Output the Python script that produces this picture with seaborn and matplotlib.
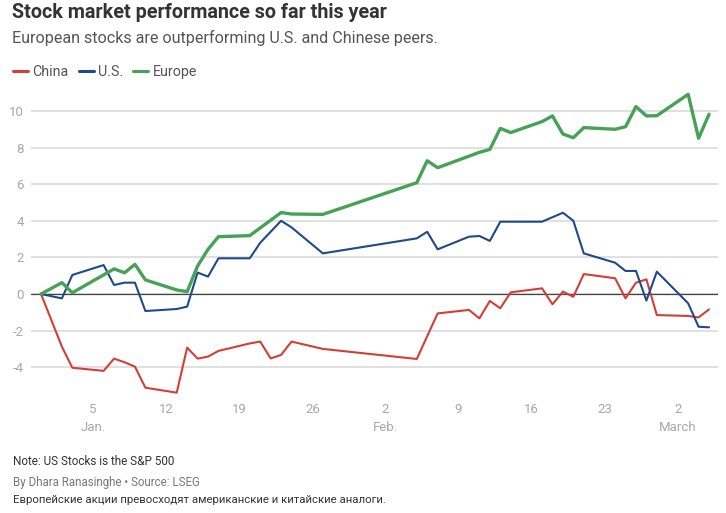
import numpy as np
import pandas as pd
import matplotlib as mpl
import matplotlib.pyplot as plt
import matplotlib.dates as mdates
from matplotlib.lines import Line2D
import seaborn as sns

# values (% change since Dec 31)
china_dates = ["2024-12-31", "2025-01-02", "2025-01-03", "2025-01-06", "2025-01-07", "2025-01-08",
               "2025-01-09", "2025-01-10", "2025-01-13", "2025-01-14", "2025-01-15", "2025-01-16",
               "2025-01-17", "2025-01-20", "2025-01-21", "2025-01-22", "2025-01-23", "2025-01-24",
               "2025-01-27", "2025-02-05", "2025-02-07", "2025-02-10", "2025-02-11", "2025-02-12",
               "2025-02-13", "2025-02-14", "2025-02-17", "2025-02-18", "2025-02-19", "2025-02-20",
               "2025-02-21", "2025-02-24", "2025-02-25", "2025-02-26", "2025-02-27", "2025-02-28",
               "2025-03-03", "2025-03-04", "2025-03-05"]
china = [0, -2.88, -4.03, -4.2, -3.53, -3.73, -3.97, -5.12, -5.39, -2.93, -3.53, -3.42,
         -3.11, -2.7, -2.6, -3.52, -3.33, -2.6, -3.0, -3.55, -1.06, -0.87, -1.33, -0.38,
         -0.78, 0.09, 0.31, -0.56, 0.13, -0.15, 1.09, 0.86, -0.24, 0.62, 0.8, -1.15,
         -1.2, -1.28, -0.84]

us_dates = ["2024-12-31", "2025-01-02", "2025-01-03", "2025-01-06", "2025-01-07", "2025-01-08",
            "2025-01-09", "2025-01-10", "2025-01-13", "2025-01-14", "2025-01-15", "2025-01-16",
            "2025-01-17", "2025-01-20", "2025-01-21", "2025-01-23", "2025-01-24", "2025-01-27",
            "2025-02-05", "2025-02-06", "2025-02-07", "2025-02-10", "2025-02-11", "2025-02-12",
            "2025-02-13", "2025-02-17", "2025-02-19", "2025-02-20", "2025-02-21", "2025-02-24",
            "2025-02-25", "2025-02-26", "2025-02-27", "2025-02-28", "2025-03-03", "2025-03-04",
            "2025-03-05"]
us = [0, -0.24, 1.04, 1.58, 0.49, 0.62, 0.62, -0.93, -0.82, -0.69, 1.17, 0.95,
      1.95, 1.95, 2.8, 4.0, 3.64, 2.22, 3.04, 3.4, 2.44, 3.13, 3.17, 2.9,
      3.95, 3.95, 4.44, 4.0, 2.22, 1.71, 1.26, 1.26, -0.36, 1.22, -0.51, -1.79,
      -1.82]

europe_dates = ["2024-12-31", "2025-01-02", "2025-01-03", "2025-01-07", "2025-01-08", "2025-01-09",
                "2025-01-10", "2025-01-13", "2025-01-14", "2025-01-15", "2025-01-16", "2025-01-17",
                "2025-01-20", "2025-01-23", "2025-01-24", "2025-01-27", "2025-02-05", "2025-02-06",
                "2025-02-07", "2025-02-11", "2025-02-12", "2025-02-13", "2025-02-14", "2025-02-17",
                "2025-02-18", "2025-02-19", "2025-02-20", "2025-02-21", "2025-02-24", "2025-02-25",
                "2025-02-26", "2025-02-27", "2025-02-28", "2025-03-03", "2025-03-04", "2025-03-05"]
europe = [0, 0.62, 0.07, 1.37, 1.16, 1.62, 0.77, 0.22, 0.13, 1.53, 2.44, 3.13,
          3.19, 4.45, 4.37, 4.35, 6.08, 7.28, 6.9, 7.74, 7.9, 9.05, 8.82, 9.42,
          9.73, 8.74, 8.54, 9.09, 9.0, 9.14, 10.24, 9.73, 9.74, 10.91, 8.51, 9.82]

series_names = ["China", "U.S.", "Europe"]
colors = {"China": "#d23f37", "U.S.": "#1f4a8a", "Europe": "#47a257"}
widths = {"China": 1.5, "U.S.": 1.5, "Europe": 2.4}

tick_dates = ["2025-01-05", "2025-01-12", "2025-01-19", "2025-01-26", "2025-02-02",
              "2025-02-09", "2025-02-16", "2025-02-23", "2025-03-02"]
tick_labels = ["5\nJan.", "12", "19", "26", "2\nFeb.", "9", "16", "23", "2\nMarch"]

frames = []
for name, d, v in [("China", china_dates, china), ("U.S.", us_dates, us), ("Europe", europe_dates, europe)]:
    frames.append(pd.DataFrame({"date": pd.to_datetime(d), "value": v, "series": name}))
df = pd.concat(frames, ignore_index=True)

sns.set_style("white")
plt.rcParams['font.family'] = ['Roboto', 'DejaVu Sans']
plt.rcParams['axes.unicode_minus'] = False

fig = plt.figure(figsize=(7.26, 5.13), dpi=100)
ax = fig.add_axes([0.0427, 0.2271, 0.9463, 0.5994])

for name in series_names:
    sns.lineplot(data=df[df.series == name], x="date", y="value", color=colors[name],
                 linewidth=widths[name], ax=ax, legend=False, zorder=3)

ax.axhline(0, color="#444444", linewidth=0.9, zorder=2)
ax.set_ylim(-5.6, 11.2)
x0 = mdates.date2num(pd.Timestamp("2024-12-31"))
x1 = mdates.date2num(pd.Timestamp("2025-03-05"))
ax.set_xlim(x0 - 0.96, x1 + 0.86)
ax.set_yticks(np.arange(-4, 11, 2))
ax.yaxis.grid(True, color="#dddddd", linewidth=1.3, zorder=0)
ax.xaxis.grid(False)
ax.set_xticks(pd.to_datetime(tick_dates))
ax.set_xticklabels(tick_labels)
for lab in ax.get_xticklabels():
    lab.set_linespacing(1.5)
ax.tick_params(axis="both", length=0, labelsize=9.5, labelcolor="#a8a8a8")
ax.tick_params(axis="x", pad=5)
ax.tick_params(axis="y", pad=5)
ax.set_xlabel("")
ax.set_ylabel("")
sns.despine(ax=ax, left=True, bottom=True)

fig.text(0.0165, 0.975, "Stock market performance so far this year", fontsize=14.2,
         fontweight="bold", color="#333333", va="center")
fig.text(0.0165, 0.925, "European stocks are outperforming U.S. and Chinese peers.",
         fontsize=11.6, color="#555555", va="center")

handles = [Line2D([0], [0], color=colors[n], linewidth=2.2) for n in series_names]
leg = fig.legend(handles, series_names, loc="center left", bbox_to_anchor=(0.018, 0.86),
                 ncol=3, frameon=False, fontsize=10.3, handlelength=1.05, handletextpad=0.3,
                 columnspacing=0.7, borderpad=0, borderaxespad=0)
for t in leg.get_texts():
    t.set_color("#555555")

fig.text(0.0175, 0.1, "Note: US Stocks is the S&P 500", fontsize=8.5, color="#333333", va="center")
fig.text(0.0175, 0.0585, "By Dhara Ranasinghe \u2022 Source: LSEG", fontsize=8.3, color="#777777", va="center")
fig.text(0.0175, 0.0253, "Европейские акции превосходят американские и китайские аналоги.",
         fontsize=8.2, color="#333333", va="center")

fig.savefig("out.png", dpi=100)
